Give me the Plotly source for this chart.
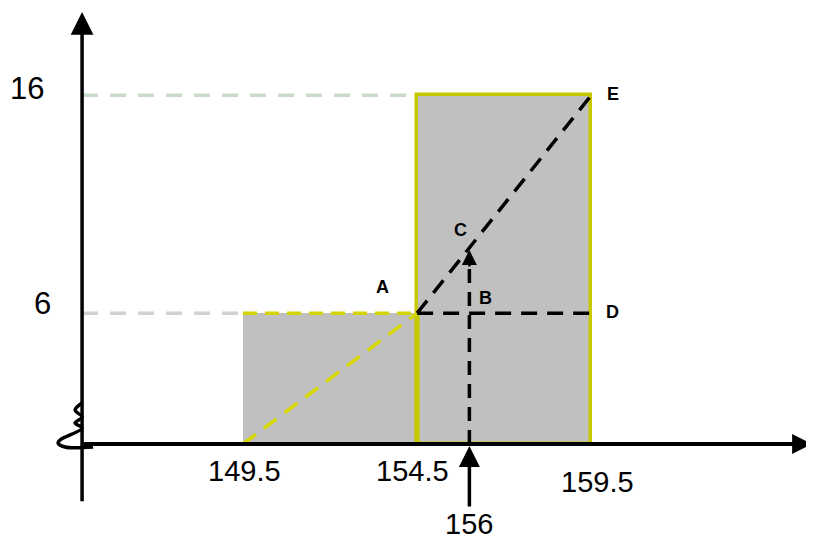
import plotly.graph_objects as go

# ---- data ----
class_bounds = [149.5, 154.5, 159.5]
bar_centers = [152.0, 157.0]
bar_widths = [5.0, 5.0]
frequencies = [6, 16]
point_A = (154.5, 6)
point_B = (156.0, 6)
point_C = (156.0, 9)
point_D = (159.5, 6)
point_E = (159.5, 16)
x_tick_labels = ["149.5", "154.5", "159.5"]
y_tick_values = [6, 16]
marked_x = 156

# ---- decoration constants ----
Y_AXIS_X = 144.88
AXIS_TOP = 19.82
AXIS_BOTTOM = -2.7
X_AXIS_END = 165.84
GRAY = "#c0c0c0"
YELLOW = "#c8c800"
FONT = "Liberation Sans, Arial, sans-serif"
PX_PER_X = 34.83
PX_PER_Y = 21.8
# axis-break squiggle, offsets in pixels from the origin (right, down)
SQUIGGLE_PX = [(0, -41), (-7, -34), (0, -27), (-7, -21), (0, -16), (-22, -4),
               (-24, -1), (-17, 3), (11, 3)]

fig = go.Figure()

# bars (outline of the first bar drawn separately)
fig.add_trace(go.Bar(
    x=bar_centers, y=frequencies, width=bar_widths,
    marker=dict(color=GRAY, line=dict(color=YELLOW, width=[0, 3.5])),
    hoverinfo="skip",
))
# first bar: dashed yellow top, solid yellow bottom and right side
fig.add_trace(go.Scatter(x=[class_bounds[0], class_bounds[1]], y=[frequencies[0]] * 2, mode="lines",
                         line=dict(color="#d4d400", width=3.5, dash="14px,8px")))
fig.add_trace(go.Scatter(x=[class_bounds[0], class_bounds[1]], y=[0, 0], mode="lines",
                         line=dict(color=YELLOW, width=3.5)))
fig.add_trace(go.Scatter(x=[class_bounds[1], class_bounds[1]], y=[0, frequencies[0]], mode="lines",
                         line=dict(color=YELLOW, width=5)))

# guide dashes from y axis to bar tops
fig.add_trace(go.Scatter(x=[Y_AXIS_X, class_bounds[1]], y=[16, 16], mode="lines",
                         line=dict(color="#c9dcc9", width=3.5, dash="16px,12px")))
fig.add_trace(go.Scatter(x=[Y_AXIS_X, class_bounds[0]], y=[6, 6], mode="lines",
                         line=dict(color="#d2d2d2", width=3.5, dash="16px,12px")))

# yellow dashed diagonal from lower bound to A
fig.add_trace(go.Scatter(x=[class_bounds[0], point_A[0]], y=[0, point_A[1]], mode="lines",
                         line=dict(color="#d6d600", width=3.5, dash="16px,10px")))
# black dashed A->E
fig.add_trace(go.Scatter(x=[point_A[0], point_E[0]], y=[point_A[1], point_E[1]], mode="lines",
                         line=dict(color="black", width=3.5, dash="16px,10px")))
# black dashed A->D
fig.add_trace(go.Scatter(x=[point_A[0], point_D[0]], y=[point_A[1], point_D[1]], mode="lines",
                         line=dict(color="black", width=3.5, dash="16px,10px")))
# vertical dashed from 156 to C
fig.add_trace(go.Scatter(x=[marked_x, point_C[0]], y=[0, point_C[1] - 0.35], mode="lines",
                         line=dict(color="black", width=3.5, dash="14px,9px")))

# axis break squiggle
fig.add_trace(go.Scatter(
    x=[Y_AXIS_X + dx / PX_PER_X for dx, dy in SQUIGGLE_PX],
    y=[-dy / PX_PER_Y for dx, dy in SQUIGGLE_PX],
    mode="lines", line=dict(color="black", width=3.5, shape="spline", smoothing=1.0)))

# axes with arrows
fig.add_annotation(x=Y_AXIS_X, y=AXIS_TOP, ax=Y_AXIS_X, ay=AXIS_BOTTOM,
                   xref="x", yref="y", axref="x", ayref="y", text="",
                   showarrow=True, arrowhead=2, arrowsize=1.3, arrowwidth=3.5, arrowcolor="black")
fig.add_annotation(x=X_AXIS_END, y=0, ax=Y_AXIS_X, ay=0,
                   xref="x", yref="y", axref="x", ayref="y", text="",
                   showarrow=True, arrowhead=2, arrowsize=1.0, arrowwidth=4, arrowcolor="black")

# arrowhead at C
fig.add_annotation(x=point_C[0], y=point_C[1] - 0.1, ax=0, ay=18, text="",
                   showarrow=True, arrowhead=2, arrowsize=1.2, arrowwidth=2.5, arrowcolor="black")

# 156 label with arrow
fig.add_annotation(x=marked_x, y=0, ax=0, ay=80, text=str(marked_x),
                   showarrow=True, arrowhead=2, arrowsize=1.2, arrowwidth=3.5, arrowcolor="black",
                   standoff=2, font=dict(family=FONT, size=29, color="black"))

# x tick labels
for v, lab, dx, dy in zip(class_bounds, x_tick_labels, [2, -5, 6], [-27, -27, -38]):
    fig.add_annotation(x=v, y=0, text=lab, showarrow=False, xshift=dx, yshift=dy,
                       font=dict(family=FONT, size=29, color="black"))

# y tick labels
for v, dx, dy in zip(y_tick_values, [-40, -55], [10, 7]):
    fig.add_annotation(x=Y_AXIS_X, y=v, text=str(v), showarrow=False, xshift=dx, yshift=dy,
                       font=dict(family=FONT, size=31, color="black"))

# point labels
labels = [("A", point_A, -35, 26), ("B", point_B, 16, 15), ("C", point_C, -9, 18),
          ("D", point_D, 21, 1), ("E", point_E, 22, 1)]
for name, (px, py), dx, dy in labels:
    fig.add_annotation(x=px, y=py, text=f"<b>{name}</b>", showarrow=False, xshift=dx, yshift=dy,
                       font=dict(family=FONT, size=18, color="black"))

fig.update_layout(
    width=814, height=543,
    margin=dict(l=0, r=0, t=0, b=0),
    paper_bgcolor="white", plot_bgcolor="white",
    showlegend=False,
    xaxis=dict(range=[142.753, 166.124], visible=False, fixedrange=True),
    yaxis=dict(range=[-4.908, 20.0], visible=False, fixedrange=True),
    bargap=0,
)

fig.write_html("out.html")
